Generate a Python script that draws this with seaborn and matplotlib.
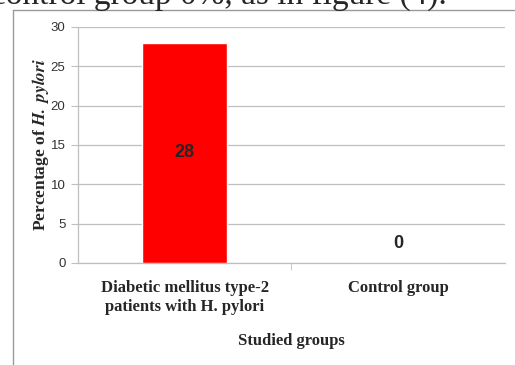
import matplotlib
matplotlib.use('Agg')
import matplotlib.pyplot as plt
import seaborn as sns
import pandas as pd
from matplotlib.lines import Line2D

# 데이터
groups = ['Diabetic mellitus type-2\npatients with H. pylori', 'Control group']
percent = [28, 0]
y_ticks = [0, 5, 10, 15, 20, 25, 30]

df = pd.DataFrame({'group': groups, 'percent': percent})

sns.set_style('white')
plt.rcParams['mathtext.fontset'] = 'stix'

fig = plt.figure(figsize=(5.15, 3.65), dpi=100)
ax = fig.add_axes([0.1515, 0.2795, 0.829, 0.6466])

sns.barplot(data=df, x='group', y='percent', color='#ff0000', saturation=1,
            width=0.4, ax=ax, zorder=3)

# 막대 라벨
for i, v in enumerate(percent):
    y = v / 2 if v > 0 else 2.5
    ax.text(i, y, str(v), ha='center', va='center', fontsize=13,
            fontweight='bold', family='Liberation Sans', zorder=4)

ax.set_ylim(0, 30)
ax.set_xlim(-0.5, 1.5)
ax.set_yticks(y_ticks)
ax.yaxis.grid(True, color='#bfbfbf', linewidth=0.9, zorder=0)
ax.set_axisbelow(True)
for s in ['top', 'right']:
    ax.spines[s].set_visible(False)
for s in ['left', 'bottom']:
    ax.spines[s].set_color('#bfbfbf')
    ax.spines[s].set_linewidth(0.9)

ax.tick_params(axis='y', length=5, color='#bfbfbf', labelsize=9.5,
               labelcolor='#333333', pad=4, left=True)
for lab in ax.get_yticklabels():
    lab.set_family('Liberation Sans')

# x 라벨 (범주)
ax.tick_params(axis='x', length=0, pad=12)
ax.set_xticks([0, 1])
ax.set_xticklabels(groups, fontsize=12, fontweight='bold',
                   family='Liberation Serif', linespacing=1.3, va='top')
ax.set_xticks([0.5], minor=True)
ax.tick_params(axis='x', which='minor', length=5, color='#bfbfbf', bottom=True)

ax.set_xlabel('Studied groups', fontsize=12, fontweight='bold',
              family='Liberation Serif', labelpad=13)
ax.set_ylabel('Percentage of $\\mathbfit{H.\\ pylori}$', fontsize=12.5,
              fontweight='bold', family='Liberation Serif', labelpad=0)

# 차트 테두리
fig.add_artist(Line2D([13 / 515, 1], [1 - 10 / 365, 1 - 10 / 365],
                      color='#9a9a9a', linewidth=1))
fig.add_artist(Line2D([13 / 515, 13 / 515], [0, 1 - 10 / 365],
                      color='#9a9a9a', linewidth=1))

# 잘린 본문 텍스트
fig.text(447 / 515, 1 - 3.5 / 365, 'control group 0%, as in figure (4).',
         family='Liberation Serif', fontsize=24, va='baseline', ha='right')

plt.savefig('out.png', dpi=100)
